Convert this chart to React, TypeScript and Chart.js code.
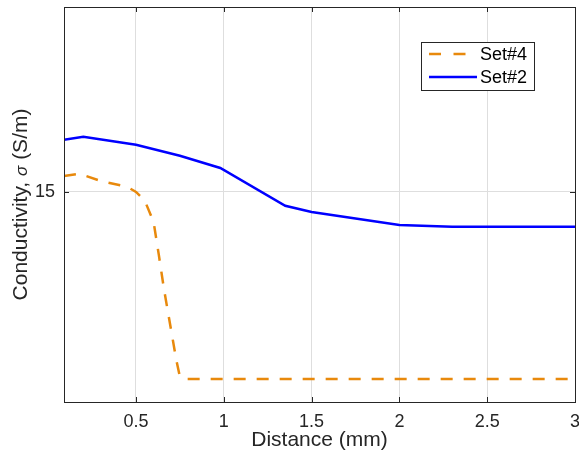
import React, { useEffect, useRef } from "react";
import { Chart, registerables } from "chart.js";

Chart.register(...registerables);

// Set#4 (orange, dashed)
const set4X = [0.09, 0.18, 0.3, 0.45, 0.5, 0.55, 0.6, 0.63, 0.66, 0.7, 0.73, 0.75, 0.78, 1.0, 1.5, 2.0, 2.5, 3.0];
const set4Y = [15.38, 15.43, 15.26, 15.12, 15.0, 14.79, 14.29, 13.5, 12.67, 11.71, 10.99, 10.6, 10.55, 10.55, 10.55, 10.55, 10.55, 10.55];
// Set#2 (blue, solid)
const set2X = [0.09, 0.2, 0.5, 0.75, 0.98, 1.35, 1.5, 2.0, 2.3, 3.0];
const set2Y = [16.24, 16.31, 16.12, 15.86, 15.57, 14.67, 14.52, 14.21, 14.17, 14.17];

const seriesLabels = ["Set#4", "Set#2"];
const seriesColors = ["#E8890C", "#0000FF"];
const xTicks = [0.5, 1, 1.5, 2, 2.5, 3];
const yTicks = [15];
const xRange = [0.09, 3];
const yRange = [10, 19.4];
const xTitle = "Distance (mm)";
const yTitleParts = ["Conductivity, ", "σ", " (S/m)"];

const FONT = "'Liberation Sans', Arial, Helvetica, sans-serif";
const DARK = "#262626";

const framePlugin = {
  id: "frame",
  afterDraw(chart: any) {
    const { ctx, chartArea: a, scales } = chart;
    ctx.save();
    ctx.strokeStyle = DARK;
    ctx.lineWidth = 1;
    ctx.beginPath();
    for (const v of xTicks) {
      const px = Math.round(scales.x.getPixelForValue(v)) + 0.5;
      ctx.moveTo(px, a.bottom);
      ctx.lineTo(px, a.bottom - 5);
      ctx.moveTo(px, a.top);
      ctx.lineTo(px, a.top + 5);
    }
    for (const v of yTicks) {
      const py = Math.round(scales.y.getPixelForValue(v)) + 0.5;
      ctx.moveTo(a.left, py);
      ctx.lineTo(a.left + 5, py);
      ctx.moveTo(a.right, py);
      ctx.lineTo(a.right - 5, py);
    }
    ctx.stroke();
    ctx.strokeRect(Math.round(a.left) + 0.5, Math.round(a.top) + 0.5, Math.round(a.right - a.left), Math.round(a.bottom - a.top));

    // y title with italic sigma
    ctx.save();
    ctx.translate(21, (a.top + a.bottom) / 2);
    ctx.rotate(-Math.PI / 2);
    ctx.fillStyle = DARK;
    ctx.textBaseline = "middle";
    ctx.textAlign = "left";
    const fonts = [`21px ${FONT}`, `italic 17px ${FONT}`, `21px ${FONT}`];
    let total = 0;
    const widths = yTitleParts.map((t, i) => {
      ctx.font = fonts[i];
      const w = ctx.measureText(t).width;
      total += w;
      return w;
    });
    let cx = -total / 2;
    yTitleParts.forEach((t, i) => {
      ctx.font = fonts[i];
      ctx.fillText(t, cx, i === 1 ? 1 : 0);
      cx += widths[i];
    });
    ctx.restore();

    // legend
    const bx = 421, by = 42, bw = 113, bh = 48;
    ctx.fillStyle = "#ffffff";
    ctx.fillRect(bx, by, bw, bh);
    ctx.strokeStyle = DARK;
    ctx.lineWidth = 1;
    ctx.strokeRect(bx + 0.5, by + 0.5, bw, bh);
    const rows = [54, 77];
    chart.data.datasets.forEach((ds: any, i: number) => {
      const y = rows[i];
      ctx.beginPath();
      ctx.strokeStyle = ds.borderColor;
      ctx.lineWidth = 2.5;
      ctx.setLineDash(ds.borderDash ? [12, 12.5] : []);
      ctx.moveTo(429, y);
      ctx.lineTo(477, y);
      ctx.stroke();
      ctx.setLineDash([]);
      ctx.fillStyle = "#000000";
      ctx.font = `18px ${FONT}`;
      ctx.textBaseline = "middle";
      ctx.textAlign = "left";
      ctx.fillText(ds.label, 480, y + 1);
    });
    ctx.restore();
  },
};

const zeroPad = (s: any) => {
  s.paddingTop = 0;
  s.paddingBottom = 0;
  s.paddingLeft = 0;
  s.paddingRight = 0;
};

export default function App() {
  const ref = useRef<HTMLCanvasElement>(null);
  useEffect(() => {
    if (!ref.current) return;
    const chart = new Chart(ref.current, {
      type: "line",
      data: {
        datasets: [
          {
            label: seriesLabels[0],
            data: set4X.map((x, i) => ({ x, y: set4Y[i] })),
            borderColor: seriesColors[0],
            borderWidth: 2.5,
            borderDash: [12, 11],
            pointRadius: 0,
            fill: false,
          },
          {
            label: seriesLabels[1],
            data: set2X.map((x, i) => ({ x, y: set2Y[i] })),
            borderColor: seriesColors[1],
            borderWidth: 2.5,
            pointRadius: 0,
            fill: false,
          },
        ],
      },
      options: {
        animation: false,
        responsive: false,
        maintainAspectRatio: false,
        layout: { padding: { top: 7, right: 4, left: 0, bottom: 0 } },
        plugins: { legend: { display: false }, tooltip: { enabled: false } },
        scales: {
          x: {
            type: "linear",
            min: xRange[0],
            max: xRange[1],
            afterBuildTicks: (s: any) => {
              s.ticks = xTicks.map((v) => ({ value: v }));
            },
            afterFit: (s: any) => {
              s.height = 52;
              zeroPad(s);
            },
            ticks: {
              callback: (v: any) => String(v),
              font: { size: 18, family: FONT },
              color: DARK,
              padding: 9,
              maxRotation: 0,
            },
            grid: { color: "#dedede", drawTicks: false, lineWidth: 1 },
            border: { display: false },
            title: {
              display: true,
              text: xTitle,
              font: { size: 21, family: FONT },
              color: DARK,
              padding: { top: 0, bottom: 1 },
            },
          },
          y: {
            type: "linear",
            min: yRange[0],
            max: yRange[1],
            afterBuildTicks: (s: any) => {
              s.ticks = yTicks.map((v) => ({ value: v }));
            },
            afterFit: (s: any) => {
              s.width = 64;
              zeroPad(s);
            },
            ticks: {
              callback: (v: any) => String(v),
              font: { size: 18, family: FONT },
              color: DARK,
              padding: 9,
            },
            grid: { color: "#dedede", drawTicks: false, lineWidth: 1 },
            border: { display: false },
            title: { display: false },
          },
        },
      },
      plugins: [framePlugin],
    } as any);
    return () => chart.destroy();
  }, []);
  return (
    <div style={{ position: "fixed", left: 0, top: 0, width: 579, height: 454, background: "#fff" }}>
      <canvas ref={ref} width={579} height={454} style={{ display: "block", width: 579, height: 454 }} />
    </div>
  );
}
